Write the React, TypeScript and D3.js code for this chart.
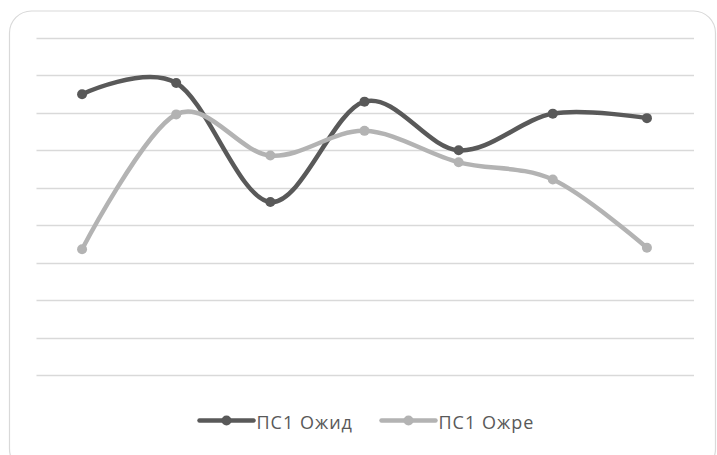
import React from "react";
import * as d3 from "d3";

const categories = ["1", "2", "3", "4", "5", "6", "7"];
const seriesNames = ["ПС1 Ожид", "ПС1 Ожре"];
const ozhid = [3.75, 3.9, 2.31, 3.65, 3.0, 3.49, 3.43];
const ozhre = [1.68, 3.48, 2.93, 3.26, 2.84, 2.61, 1.70];
const yTicks = [0, 0.5, 1, 1.5, 2, 2.5, 3, 3.5, 4, 4.5];
const colors = ["#595959", "#b3b3b3"];

const W = 717;
const H = 455;
const plot = { left: 35, right: 694, top: 38, bottom: 375 };

export default function App() {
  const x = d3
    .scaleBand<string>()
    .domain(categories)
    .range([plot.left, plot.right]);
  const y = d3.scaleLinear().domain([0, 4.5]).range([plot.bottom, plot.top]);
  const line = d3
    .line<number>()
    .x((_, i) => (x(categories[i]) as number) + x.bandwidth() / 2)
    .y((d) => y(d))
    .curve(d3.curveCardinal.tension(0));
  const series = [ozhid, ozhre];
  const legendX = [199.5, 381.5];

  return (
    <svg
      width={W}
      height={H}
      style={{ position: "absolute", left: 0, top: 0, background: "#fff" }}
    >
      <rect
        x={9.5}
        y={11}
        width={706}
        height={460}
        rx={22}
        ry={22}
        fill="#fff"
        stroke="#d9d9d9"
        strokeWidth={1.2}
      />
      {yTicks.map((t) => (
        <line
          key={t}
          x1={plot.left + 1.5}
          x2={plot.right}
          y1={Math.round(y(t)) + 0.5}
          y2={Math.round(y(t)) + 0.5}
          stroke="#d9d9d9"
          strokeWidth={1.3}
        />
      ))}
      {series.map((s, si) => (
        <g key={si}>
          <path
            d={line(s) || ""}
            fill="none"
            stroke={colors[si]}
            strokeWidth={4.5}
            strokeLinecap="round"
            strokeLinejoin="round"
          />
          {s.map((v, i) => (
            <circle
              key={i}
              cx={(x(categories[i]) as number) + x.bandwidth() / 2}
              cy={y(v)}
              r={5}
              fill={colors[si]}
            />
          ))}
        </g>
      ))}
      {seriesNames.map((n, si) => (
        <g key={n}>
          <line
            x1={legendX[si]}
            x2={legendX[si] + 54}
            y1={420.5}
            y2={420.5}
            stroke={colors[si]}
            strokeWidth={4.5}
            strokeLinecap="round"
          />
          <circle cx={legendX[si] + 27} cy={420.5} r={5} fill={colors[si]} />
          <text
            x={legendX[si] + 57}
            y={428.5}
            fontFamily="'Open Sans', sans-serif"
            fontSize={18}
            letterSpacing={1}
            fill="#595959"
          >
            {n}
          </text>
        </g>
      ))}
    </svg>
  );
}
